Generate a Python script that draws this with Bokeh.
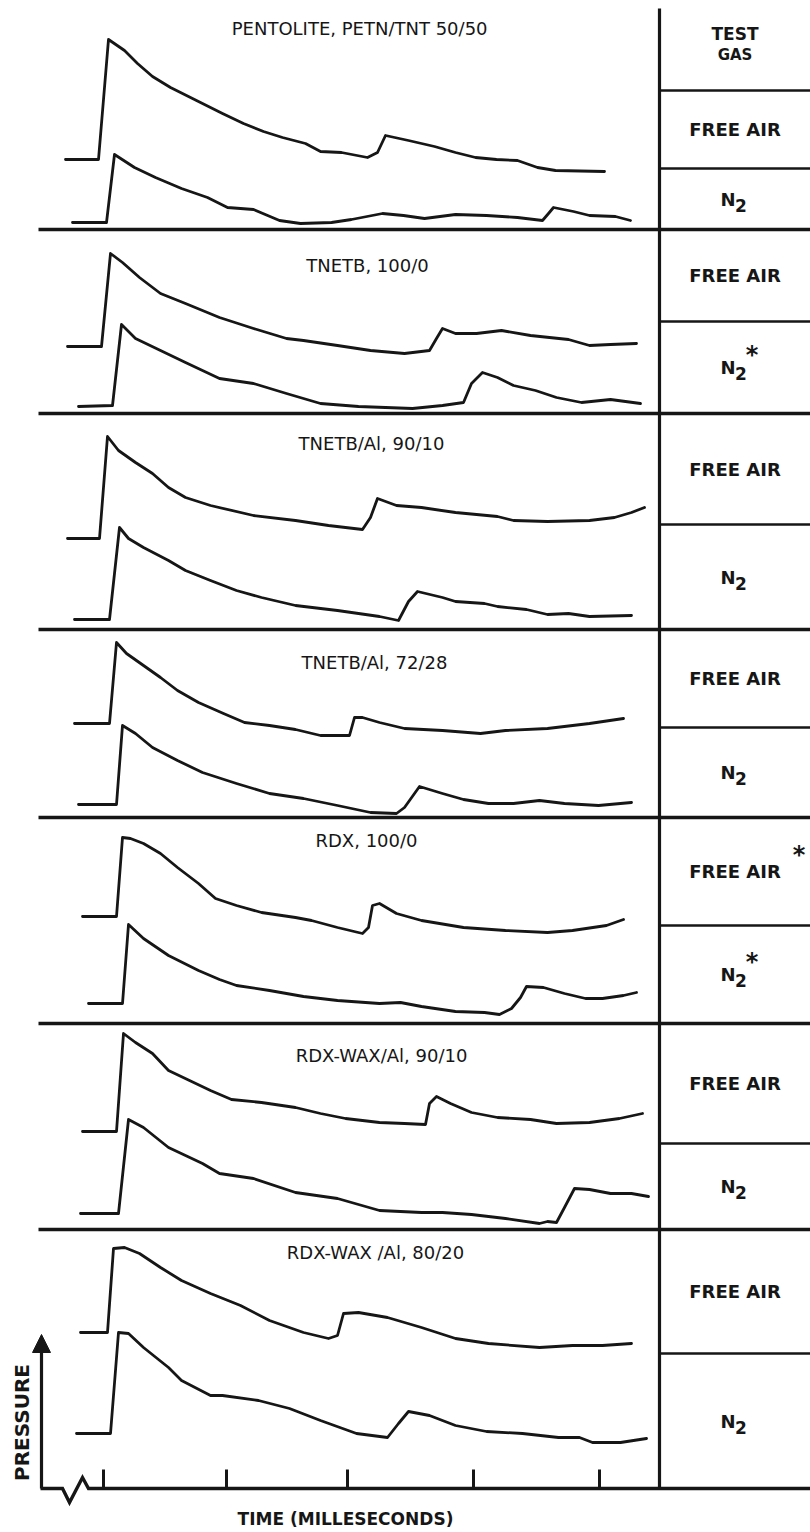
import math
from bokeh.plotting import figure
from bokeh.models import Range1d, Arrow, NormalHead
from bokeh.embed import file_html
from bokeh.resources import INLINE
from bokeh.core.properties import value

# ---------------- data (x = time, y = pressure trace position) ----------------
panel_titles = ["PENTOLITE, PETN/TNT  50/50", "TNETB, 100/0", "TNETB/Al, 90/10", "TNETB/Al, 72/28",
                "RDX, 100/0", "RDX-WAX/Al, 90/10", "RDX-WAX /Al, 80/20"]
gas_header = ["TEST", "GAS"]
gas_air = ["FREE AIR"] * 7
air_star = [False, False, False, False, True, False, False]
n2_star = [False, True, False, False, True, False, False]
time_ticks = [103, 226, 347, 473, 599]
axis_x_label = "TIME (MILLESECONDS)"
axis_y_label = "PRESSURE"

pent_air_x = [65, 98, 108, 124, 137, 152, 170, 196, 222, 243, 263, 282, 305, 320, 341, 367, 377, 385, 408, 434, 455, 475, 496, 517, 537, 555, 604]
pent_air_y = [159, 159, 39, 50, 63, 76, 87, 100, 113, 123, 131, 137, 143, 151, 152, 157, 152, 135, 140, 146, 152, 157, 159, 160, 167, 170, 171]
pent_n2_x = [72, 106, 114, 134, 155, 181, 207, 227, 253, 279, 300, 331, 351, 382, 403, 424, 455, 486, 517, 542, 548, 553, 573, 589, 615, 630]
pent_n2_y = [222, 222, 154, 167, 177, 188, 197, 207, 209, 220, 223, 222, 219, 213, 215, 218, 214, 215, 217, 220, 213, 207, 211, 215, 216, 220]

tnetb_air_x = [67, 101, 110, 122, 139, 160, 185, 219, 253, 286, 303, 337, 370, 404, 429, 436, 442, 455, 476, 501, 530, 568, 589, 610, 636]
tnetb_air_y = [346, 346, 253, 262, 277, 293, 303, 317, 328, 338, 340, 345, 350, 353, 350, 338, 328, 333, 333, 330, 335, 339, 345, 344, 343]
tnetb_n2_x = [78, 112, 121, 135, 160, 185, 219, 253, 286, 320, 358, 412, 442, 463, 471, 482, 497, 513, 535, 556, 581, 610, 640]
tnetb_n2_y = [406, 405, 324, 338, 350, 362, 378, 383, 393, 403, 406, 408, 405, 402, 383, 372, 377, 385, 390, 397, 402, 399, 403]

al10_air_x = [67, 99, 107, 118, 135, 152, 168, 185, 210, 253, 295, 328, 362, 370, 377, 396, 421, 455, 497, 513, 547, 589, 614, 631, 644]
al10_air_y = [538, 538, 436, 450, 462, 473, 487, 497, 505, 515, 520, 525, 529, 517, 498, 505, 507, 512, 516, 520, 521, 520, 517, 512, 507]
al10_n2_x = [74, 109, 119, 128, 143, 168, 185, 210, 236, 261, 295, 337, 379, 398, 408, 417, 442, 455, 484, 497, 526, 547, 568, 589, 631]
al10_n2_y = [619, 619, 527, 538, 547, 560, 570, 580, 590, 597, 605, 610, 616, 620, 601, 591, 597, 601, 603, 606, 609, 614, 613, 616, 615]

al28_air_x = [74, 109, 116, 126, 143, 160, 177, 198, 223, 244, 269, 295, 320, 349, 354, 362, 379, 404, 442, 480, 505, 547, 589, 623]
al28_air_y = [723, 723, 642, 653, 665, 677, 690, 702, 713, 722, 725, 729, 735, 735, 717, 717, 722, 728, 730, 733, 730, 728, 723, 718]
al28_n2_x = [78, 116, 122, 135, 152, 177, 202, 236, 269, 303, 337, 370, 396, 404, 419, 442, 463, 488, 513, 539, 564, 598, 631]
al28_n2_y = [804, 804, 725, 733, 747, 760, 772, 783, 793, 798, 805, 812, 813, 807, 786, 793, 799, 803, 803, 800, 803, 805, 802]

rdx_air_x = [82, 116, 122, 130, 143, 160, 177, 198, 215, 236, 261, 295, 311, 337, 362, 368, 372, 379, 396, 421, 463, 505, 547, 572, 606, 623]
rdx_air_y = [916, 916, 837, 838, 843, 853, 867, 883, 898, 905, 912, 917, 920, 927, 933, 927, 905, 903, 913, 920, 927, 930, 932, 930, 925, 919]
rdx_n2_x = [88, 122, 128, 143, 168, 198, 219, 236, 269, 303, 337, 379, 400, 421, 455, 484, 499, 511, 520, 526, 543, 564, 585, 602, 623, 636]
rdx_n2_y = [1003, 1003, 924, 938, 955, 970, 979, 985, 990, 996, 1000, 1003, 1002, 1006, 1011, 1012, 1014, 1008, 997, 986, 987, 993, 998, 998, 995, 992]

wax10_air_x = [82, 116, 123, 135, 152, 168, 189, 210, 231, 261, 295, 320, 345, 379, 404, 425, 429, 436, 450, 471, 497, 530, 556, 589, 619, 642]
wax10_air_y = [1131, 1131, 1033, 1042, 1053, 1070, 1080, 1090, 1099, 1102, 1107, 1113, 1118, 1122, 1123, 1124, 1103, 1096, 1103, 1112, 1117, 1119, 1123, 1122, 1118, 1113]
wax10_n2_x = [80, 118, 128, 143, 168, 202, 219, 253, 295, 337, 379, 421, 442, 471, 505, 539, 547, 556, 564, 574, 589, 610, 631, 648]
wax10_n2_y = [1213, 1213, 1119, 1127, 1147, 1163, 1173, 1178, 1192, 1198, 1210, 1212, 1212, 1214, 1218, 1223, 1221, 1222, 1207, 1188, 1189, 1193, 1193, 1196]

wax20_air_x = [80, 107, 113, 124, 139, 160, 181, 210, 240, 269, 303, 328, 337, 343, 358, 387, 421, 455, 488, 539, 572, 602, 631]
wax20_air_y = [1332, 1332, 1248, 1247, 1253, 1267, 1280, 1293, 1305, 1320, 1332, 1338, 1335, 1313, 1312, 1317, 1327, 1338, 1343, 1347, 1345, 1345, 1343]
wax20_n2_x = [76, 110, 118, 128, 143, 168, 181, 210, 222, 258, 289, 320, 356, 387, 398, 408, 429, 455, 486, 522, 558, 579, 592, 620, 646]
wax20_n2_y = [1433, 1433, 1332, 1333, 1347, 1367, 1380, 1395, 1395, 1400, 1408, 1420, 1433, 1437, 1423, 1411, 1415, 1425, 1431, 1433, 1437, 1437, 1442, 1442, 1438]

traces = [
    (pent_air_x, pent_air_y), (pent_n2_x, pent_n2_y),
    (tnetb_air_x, tnetb_air_y), (tnetb_n2_x, tnetb_n2_y),
    (al10_air_x, al10_air_y), (al10_n2_x, al10_n2_y),
    (al28_air_x, al28_air_y), (al28_n2_x, al28_n2_y),
    (rdx_air_x, rdx_air_y), (rdx_n2_x, rdx_n2_y),
    (wax10_air_x, wax10_air_y), (wax10_n2_x, wax10_n2_y),
    (wax20_air_x, wax20_air_y), (wax20_n2_x, wax20_n2_y),
]

# ---------------- layout (page geometry) ----------------
W, H = 810, 1532
panel_bounds = [0, 229, 413, 629, 817, 1023, 1229, 1488]
gas_split = [168, 321, 524, 727, 925, 1143, 1353]
header_bottom = 90
col_x = 659
right_edge = W
left_x = 38
axis_y = 1488
title_y = [28, 265, 443, 662, 840, 1055, 1252]
title_x = [362, 367, 371, 374, 366, 381, 375]
ink = "#161616"
FONT = "DejaVu Sans"

p = figure(width=W, height=H, x_range=Range1d(0, W), y_range=Range1d(H, 0),
           output_backend="svg", toolbar_location=None, x_axis_type=None, y_axis_type=None,
           min_border=0)
p.outline_line_color = None
p.background_fill_color = "white"

# traces
for xs, ys in traces:
    p.line(xs, ys, line_width=2.8, line_color=ink, line_join="round", line_cap="round")

# panel dividers across the full width
div_y = panel_bounds[1:-1]
p.segment(x0=[left_x] * len(div_y), y0=div_y, x1=[right_edge] * len(div_y), y1=div_y,
          line_width=3.6, line_color=ink)
# right column lines
sub_y = [header_bottom] + gas_split
p.segment(x0=[col_x] * len(sub_y), y0=sub_y, x1=[right_edge] * len(sub_y), y1=sub_y,
          line_width=2.6, line_color=ink)
# vertical column divider
p.segment(x0=[col_x], y0=[8], x1=[col_x], y1=[axis_y], line_width=3.2, line_color=ink)

# bottom time axis with break mark
p.line([40, 62, 69, 82, 88, right_edge], [axis_y, axis_y, axis_y + 14, axis_y - 11, axis_y, axis_y],
       line_width=3.4, line_color=ink, line_join="miter")
p.segment(x0=time_ticks, y0=[axis_y] * len(time_ticks), x1=time_ticks, y1=[axis_y - 19] * len(time_ticks),
          line_width=3, line_color=ink)
# pressure axis arrow
p.add_layout(Arrow(end=NormalHead(size=18, fill_color=ink, line_color=ink, line_width=1),
                   x_start=41, y_start=axis_y, x_end=41, y_end=1334, line_width=3.2, line_color=ink))

# titles
p.text(x=title_x, y=title_y, text=panel_titles, text_font=value(FONT), text_font_size="18px",
       text_align="center", text_baseline="middle", text_color=ink)

# right column texts
cx = (col_x + right_edge) / 2
p.text(x=[cx, cx], y=[33, 54], text=gas_header, text_font=value(FONT), text_font_style="bold",
       text_font_size=["17px", "15px"], text_align="center", text_baseline="middle", text_color=ink)
air_y = []
n2_y = []
for i in range(7):
    top = header_bottom if i == 0 else panel_bounds[i]
    air_y.append((top + gas_split[i]) / 2)
    n2_y.append((gas_split[i] + panel_bounds[i + 1]) / 2)
p.text(x=[cx] * 7, y=air_y, text=gas_air, text_font=value(FONT), text_font_style="bold",
       text_font_size="18px", text_align="center", text_baseline="middle", text_color=ink)
p.text(x=[cx - 7] * 7, y=n2_y, text=["N"] * 7, text_font=value(FONT), text_font_style="bold",
       text_font_size="18px", text_align="center", text_baseline="middle", text_color=ink)
p.text(x=[cx + 6] * 7, y=[v + 6 for v in n2_y], text=["2"] * 7, text_font=value(FONT), text_font_style="bold",
       text_font_size="17px", text_align="center", text_baseline="middle", text_color=ink)
sx, sy = [], []
for i in range(7):
    if n2_star[i]:
        sx.append(cx + 17); sy.append(n2_y[i] - 13)
    if air_star[i]:
        sx.append(cx + 64); sy.append(air_y[i] - 17)
p.text(x=sx, y=sy, text=["*"] * len(sx), text_font=value(FONT), text_font_style="bold",
       text_font_size="24px", text_align="center", text_baseline="middle", text_color=ink)

# axis labels
p.text(x=[345], y=[1518], text=[axis_x_label], text_font=value(FONT), text_font_style="bold",
       text_font_size="17px", text_align="center", text_baseline="middle", text_color=ink)
p.text(x=[21], y=[1422], text=[axis_y_label], angle=math.pi / 2, text_font=value(FONT),
       text_font_style="bold", text_font_size="20px", text_align="center", text_baseline="middle",
       text_color=ink)

open("out.html", "w").write(file_html(p, INLINE))
